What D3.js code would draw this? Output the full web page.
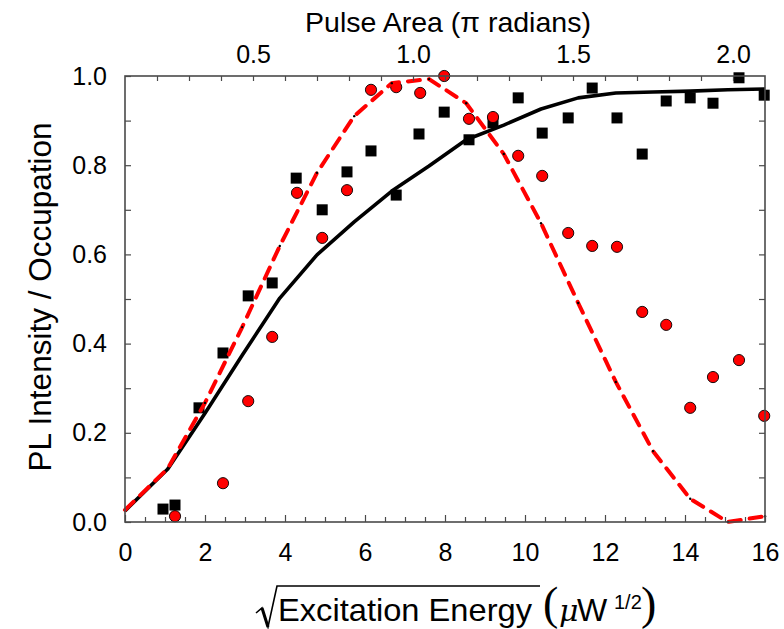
<!DOCTYPE html>
<html><head><meta charset="utf-8">
<script src="https://cdn.jsdelivr.net/npm/d3@7"></script>
<style>body{margin:0;background:#fff}svg{display:block;font-family:"Liberation Sans",Arial,sans-serif}</style>
</head><body>
<svg id="c" width="784" height="629"></svg>
<script>
// ---- data ----
const squareX = [0.95,1.25,1.85,2.45,3.08,3.68,4.28,4.93,5.55,6.15,6.78,7.35,7.98,8.6,9.2,9.83,10.43,11.08,11.68,12.3,12.93,13.53,14.13,14.7,15.35,15.98];
const squareY = [0.029,0.038,0.256,0.379,0.507,0.536,0.771,0.700,0.785,0.832,0.733,0.870,0.919,0.857,0.895,0.951,0.872,0.906,0.973,0.906,0.825,0.944,0.951,0.939,0.996,0.957];
const circleX = [1.25,2.45,3.08,3.68,4.3,4.93,5.55,6.15,6.78,7.38,7.98,8.6,9.2,9.83,10.43,11.08,11.68,12.3,12.93,13.53,14.13,14.7,15.35,15.98];
const circleY = [0.013,0.087,0.271,0.415,0.738,0.637,0.744,0.969,0.975,0.962,1.0,0.904,0.908,0.821,0.776,0.648,0.619,0.617,0.471,0.442,0.256,0.325,0.363,0.238];
const curveX = [0,1.07,2.0,2.93,3.87,4.8,5.73,6.67,7.6,8.53,9.47,10.4,11.33,12.27,13.2,14.13,15.07,16.0];
const blackY = [0.025,0.119,0.244,0.374,0.502,0.599,0.673,0.742,0.798,0.857,0.890,0.926,0.951,0.962,0.964,0.966,0.969,0.971];
const redY = [0.027,0.12,0.267,0.437,0.619,0.783,0.910,0.984,0.993,0.939,0.825,0.670,0.491,0.314,0.159,0.052,0.0,0.013];
const xTickLabels = [0,2,4,6,8,10,12,14,16];
const yTickLabels = [0,0.2,0.4,0.6,0.8,1.0];
const topTickLabels = [0.5,1.0,1.5,2.0];

// ---- layout ----
const L=125,R=765,T=76,B=522;
const svg=d3.select("#c");
const x=d3.scaleLinear().domain([0,16]).range([L,R]);
const y=d3.scaleLinear().domain([0,1]).range([B,T]);
const xTop=d3.scaleLinear().domain([0.1,2.1]).range([L,R]);
const axisCol="#4a4a4a";

// squares
svg.append("g").selectAll("rect").data(squareX.map((d,i)=>[d,squareY[i]])).join("rect")
  .attr("x",d=>x(d[0])-5.5).attr("y",d=>y(d[1])-5.5).attr("width",11).attr("height",11).attr("fill","#000");
// circles
svg.append("g").selectAll("circle").data(circleX.map((d,i)=>[d,circleY[i]])).join("circle")
  .attr("cx",d=>x(d[0])).attr("cy",d=>y(d[1])).attr("r",5.6).attr("fill","#ff0000").attr("stroke","#000").attr("stroke-width",0.9);

const line=d3.line().x(d=>x(d[0])).y(d=>y(d[1]));
svg.append("path").datum(curveX.map((d,i)=>[d,blackY[i]])).attr("d",line)
  .attr("fill","none").attr("stroke","#000").attr("stroke-width",3.6).attr("stroke-linejoin","round");
svg.append("path").datum(curveX.map((d,i)=>[d,redY[i]])).attr("d",line)
  .attr("fill","none").attr("stroke","#ff0000").attr("stroke-width",4).attr("stroke-dasharray","12,9").attr("stroke-linecap","round");
svg.append("g").selectAll("circle").data(curveX.map((d,i)=>[d,redY[i]]).slice(1)).join("circle")
  .attr("cx",d=>x(d[0])).attr("cy",d=>y(d[1])).attr("r",1.2).attr("fill","#000");

// axes
function styleAxis(g){g.select(".domain").remove();g.selectAll("line").attr("stroke",axisCol).attr("stroke-width",1.2);g.selectAll("text").attr("fill","#000");}
svg.append("g").attr("transform",`translate(0,${B})`)
  .call(d3.axisBottom(x).tickValues(d3.range(0,16.01,0.5).filter(v=>v%2!==0)).tickSize(-5).tickFormat(""))
  .call(styleAxis);
svg.append("g").attr("transform",`translate(0,${B})`)
  .call(d3.axisBottom(x).tickValues(xTickLabels).tickSize(-7).tickPadding(21).tickFormat(d3.format("d")))
  .call(styleAxis).call(g=>g.selectAll("text").attr("font-size",25));
svg.append("g").attr("transform",`translate(${L},0)`)
  .call(d3.axisLeft(y).tickValues(d3.range(0.1,1,0.2)).tickSize(-6).tickFormat("")).call(styleAxis);
svg.append("g").attr("transform",`translate(${L},0)`)
  .call(d3.axisLeft(y).tickValues(yTickLabels).tickSize(-6).tickPadding(18).tickFormat(d3.format(".1f")))
  .call(styleAxis).call(g=>g.selectAll("text").attr("font-size",25));
svg.append("g").attr("transform",`translate(${R},0)`)
  .call(d3.axisRight(y).tickValues(d3.range(0.1,1,0.1)).tickSize(-6).tickFormat("")).call(styleAxis);
svg.append("g").attr("transform",`translate(0,${T})`)
  .call(d3.axisTop(xTop).tickValues(d3.range(0.2,2.05,0.1)).tickSize(-5).tickFormat("")).call(styleAxis);
svg.append("g").attr("transform",`translate(0,${T})`)
  .call(d3.axisTop(xTop).tickValues(topTickLabels).tickSize(0).tickPadding(13).tickFormat(d3.format(".1f")))
  .call(styleAxis).call(g=>g.selectAll("text").attr("font-size",25));
svg.append("rect").attr("x",L).attr("y",T).attr("width",R-L).attr("height",B-T)
  .attr("fill","none").attr("stroke",axisCol).attr("stroke-width",1.6);

// titles
svg.append("text").attr("x",448).attr("y",32).attr("text-anchor","middle").attr("font-size",28.5).text("Pulse Area (π radians)");
svg.append("text").attr("transform","translate(51,297) rotate(-90)").attr("text-anchor","middle").attr("font-size",31.5).text("PL Intensity / Occupation");

// x label with radical
const xl=svg.append("g");
xl.append("path").attr("d","M256,613 L262,608 L268,627 L277,586 L540,586").attr("fill","none").attr("stroke","#000").attr("stroke-width",1.6);
xl.append("path").attr("d","M262,608 L268,627").attr("stroke","#000").attr("stroke-width",3);
xl.append("text").attr("x",278).attr("y",621).attr("font-size",32).attr("textLength",254).attr("lengthAdjust","spacingAndGlyphs").text("Excitation Energy");
xl.append("text").attr("x",543).attr("y",619).attr("font-size",46).attr("font-family","'Liberation Serif',serif").text("(");
xl.append("text").attr("x",559).attr("y",621).attr("font-size",30).attr("font-style","italic").attr("font-family","'DejaVu Serif',serif").text("μ");
xl.append("text").attr("x",577).attr("y",621).attr("font-size",32).text("W");
xl.append("text").attr("x",614).attr("y",609).attr("font-size",20).text("1/2");
xl.append("text").attr("x",641).attr("y",619).attr("font-size",46).attr("font-family","'Liberation Serif',serif").text(")");
</script>
</body></html>
